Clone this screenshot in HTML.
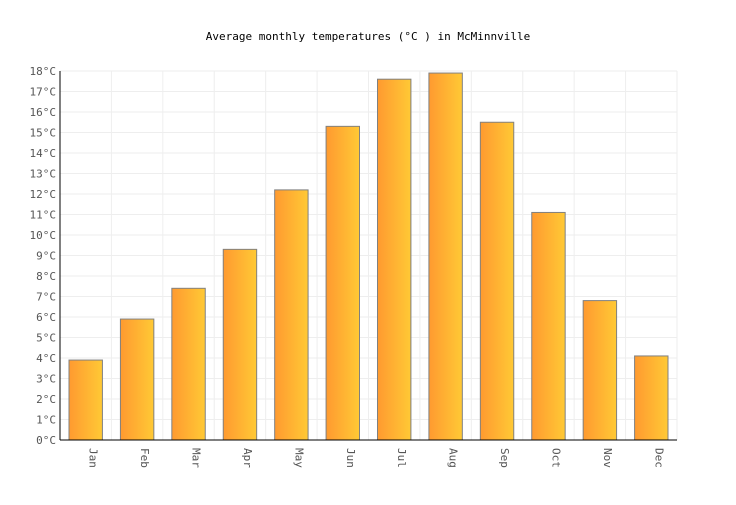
<!DOCTYPE html>
<html><head><meta charset="utf-8"><style>
body{margin:0;background:#fff;}
svg text{font-family:"DejaVu Sans Mono","Liberation Mono",monospace;}
</style></head><body>
<svg id="chart" width="736" height="500" xmlns="http://www.w3.org/2000/svg">
<defs><linearGradient id="bg" x1="0" x2="1" y1="0" y2="0"><stop offset="0" stop-color="#ff9a30"/><stop offset="1" stop-color="#ffc935"/></linearGradient></defs>
<text x="368" y="40" text-anchor="middle" font-size="11" fill="#000">Average monthly temperatures (°C ) in McMinnville</text>
<g id="grid"></g><g id="bars"></g><g id="axes"></g>
</svg>
<script>
const categories=["Jan","Feb","Mar","Apr","May","Jun","Jul","Aug","Sep","Oct","Nov","Dec"];
const temps=[3.9,5.9,7.4,9.3,12.2,15.3,17.6,17.9,15.5,11.1,6.8,4.1];
const yTicks=[0,1,2,3,4,5,6,7,8,9,10,11,12,13,14,15,16,17,18];
const NS="http://www.w3.org/2000/svg";
const L=60,R=677,T=71,B=440,yMax=18;
const bw=(R-L)/categories.length;
const y=v=>B-(v/yMax)*(B-T);
const x=i=>L+i*bw;
function mk(t,a,p){const e=document.createElementNS(NS,t);for(const k in a)e.setAttribute(k,a[k]);p.appendChild(e);return e;}
const grid=document.getElementById('grid'),bars=document.getElementById('bars'),axes=document.getElementById('axes');
yTicks.forEach(t=>{
 const l=mk('line',{x1:L,x2:R,y1:y(t),y2:y(t),stroke:'#eeeeee'},grid);
 
 
 const tx=mk('text',{x:L-4,y:y(t)+4,'text-anchor':'end','font-size':'11',fill:'#555'},axes);
 tx.textContent=t+'°C';
 
 
});
categories.forEach((c,i)=>{
 const g=mk('line',{x1:x(i+1),x2:x(i+1),y1:T,y2:B,stroke:'#eeeeee'},grid);
 
 
 const r=mk('rect',{x:x(i)+9,y:y(temps[i]),width:bw-18,height:B-y(temps[i]),fill:'url(#bg)',stroke:'#808080','stroke-width':1},bars);
 
 
 const cx=x(i)+bw/2;
 const tx=mk('text',{x:0,y:0,transform:`translate(${cx+4},${B+8}) rotate(90)`,'font-size':'11',fill:'#555'},axes);
 tx.textContent=c;
 
 
});
const ya=mk('line',{x1:L,x2:L,y1:T,y2:B,stroke:'#000'},axes);


const xa=mk('line',{x1:L,x2:R,y1:B,y2:B,stroke:'#000'},axes);


</script>
</body></html>
